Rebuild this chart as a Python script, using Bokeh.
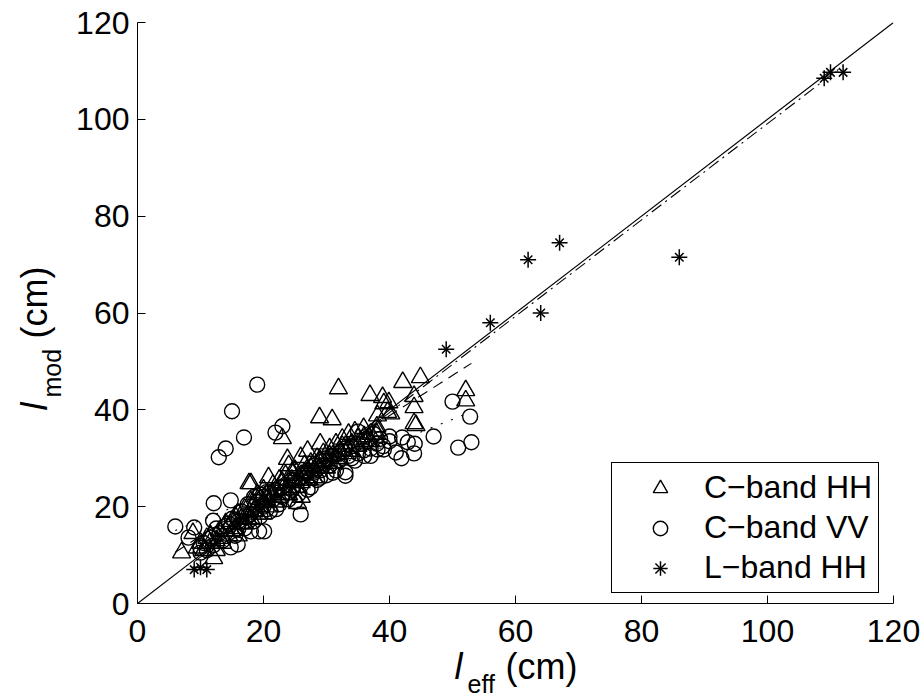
import math
from bokeh.plotting import figure
from bokeh.models import Range1d, Legend, LegendItem, FixedTicker, ColumnDataSource
from bokeh.core.properties import value
from bokeh.embed import file_html
from bokeh.resources import INLINE

# ---------------- data ----------------
ticks = [0, 20, 40, 60, 80, 100, 120]

chh_x = [7.0, 8.8, 9.5, 10.0, 11.0, 11.6, 12.1, 12.5, 13.0, 13.5, 14.0, 14.5, 15.0, 15.5,
         16.0, 16.5, 17.0, 17.5, 17.7, 18.0, 18.5, 19.0, 19.5, 20.0, 20.5, 20.8, 21.0, 21.5,
         22.0, 22.5, 23.0, 23.0, 23.5, 23.8, 24.0, 24.5, 25.0, 25.5, 25.9, 26.0, 26.5, 27.0,
         27.5, 28.0, 28.5, 28.9, 29.0, 29.5, 30.0, 30.5, 30.9, 31.0, 31.5, 31.9, 32.0, 32.5,
         33.0, 33.5, 34.0, 34.5, 35.0, 35.9, 36.0, 36.9, 37.0, 38.0, 38.1, 38.9, 39.1, 39.7,
         39.9, 40.2, 42.1, 43.9, 43.9, 43.9, 44.2, 44.9, 52.1, 52.1, 38.1, 26.0, 25.4, 20.0,
         16.0, 12.5, 18.0,
         10.5, 11.5, 13.0, 14.0, 15.0, 15.5, 16.5, 17.0, 18.0, 18.5, 19.0, 19.5, 20.0, 21.0,
         21.5, 22.0, 22.5, 23.0, 24.0, 24.5, 25.0, 26.0, 26.5, 27.0, 27.5, 28.0, 28.5, 29.0,
         30.0, 30.5, 31.0, 32.0, 32.5, 33.0, 34.0, 35.0, 36.0, 37.0, 38.0, 24.0, 27.0, 29.0]
chh_y = [10.5, 14.5, 11.5, 12.5, 13.5, 14.0, 9.3, 13.0, 15.0, 12.5, 16.5, 14.0, 17.0, 15.5,
         18.5, 16.5, 19.5, 17.5, 24.8, 21.0, 19.0, 22.5, 20.0, 23.5, 21.5, 26.0, 22.5, 24.5,
         21.0, 25.5, 34.1, 23.5, 26.5, 29.8, 22.5, 25.5, 27.5, 24.0, 30.2, 26.5, 28.5, 25.5,
         29.0, 27.5, 30.0, 38.4, 28.0, 31.0, 29.5, 32.0, 38.0, 30.5, 33.0, 44.4, 31.5, 34.0,
         32.5, 35.0, 33.0, 35.5, 34.0, 36.2, 33.5, 43.0, 35.0, 36.5, 38.8, 42.6, 41.3, 39.5,
         41.5, 39.2, 45.7, 42.8, 40.5, 37.2, 36.8, 46.7, 44.0, 41.9, 35.7, 22.0, 20.7, 18.5,
         14.0, 11.0, 24.8,
         11.0, 12.5, 13.5, 15.0, 15.0, 18.0, 17.5, 16.5, 17.5, 20.5, 18.5, 21.5, 21.0, 20.0,
         22.5, 23.5, 22.0, 25.0, 23.5, 27.0, 25.0, 25.0, 27.0, 27.0, 28.0, 26.0, 28.5, 29.5,
         28.0, 30.5, 29.0, 30.0, 32.5, 31.0, 31.5, 32.5, 34.5, 33.5, 35.0, 28.5, 31.5, 33.0]

cvv_x = [6.0, 8.1, 9.0, 10.0, 10.5, 11.6, 12.0, 12.1, 12.9, 13.0, 14.0, 14.0, 14.8, 14.8,
         15.0, 15.0, 15.9, 16.0, 16.5, 16.9, 17.0, 17.5, 18.0, 18.0, 18.5, 19.0, 19.0, 19.3,
         19.5, 20.0, 20.1, 20.5, 21.0, 21.5, 21.9, 22.0, 22.5, 23.0, 23.0, 23.5, 24.0, 24.5,
         25.0, 25.5, 25.9, 26.0, 26.5, 27.0, 27.5, 28.0, 28.5, 29.0, 29.5, 30.0, 30.5, 31.0,
         31.5, 32.0, 32.5, 33.0, 33.0, 33.5, 34.0, 34.5, 35.0, 35.9, 36.5, 37.0, 38.1, 38.5,
         39.1, 40.0, 41.0, 41.9, 42.0, 42.9, 43.9, 47.0, 50.0, 50.9, 52.8, 53.0, 35.0, 37.5,
         10.0, 11.0, 12.0, 12.5, 13.5, 14.5, 15.5, 16.0, 17.0, 17.5, 18.5, 19.0, 19.5, 20.0,
         20.5, 21.0, 22.0, 23.0, 24.0, 24.5, 25.0, 26.0, 27.0, 27.5, 28.0, 29.0, 29.5, 30.0,
         31.0, 32.0, 33.0, 34.0, 35.5, 36.0, 37.0, 38.0, 39.0, 40.0, 44.0]
cvv_y = [15.9, 13.6, 15.7, 10.5, 12.5, 13.6, 17.1, 20.7, 30.2, 14.5, 32.0, 16.0, 11.6, 21.3,
         39.7, 17.5, 12.2, 15.5, 19.0, 34.3, 17.0, 20.5, 14.9, 18.5, 22.0, 45.2, 19.5, 14.9,
         22.5, 20.0, 14.9, 23.0, 19.0, 21.5, 35.3, 23.5, 20.5, 36.6, 22.0, 24.5, 21.5, 23.5,
         25.5, 22.5, 18.4, 24.5, 27.0, 23.5, 26.0, 28.5, 25.5, 27.5, 29.5, 26.5, 28.5, 30.5,
         27.5, 29.5, 31.5, 27.1, 26.4, 30.5, 32.5, 29.5, 31.0, 31.6, 33.5, 30.5, 31.8, 34.0,
         31.8, 33.5, 31.2, 30.0, 34.3, 33.3, 31.0, 34.5, 41.7, 32.2, 38.6, 33.3, 35.5, 35.0,
         11.5, 11.0, 12.0, 15.5, 13.0, 16.5, 14.0, 17.0, 15.5, 18.0, 17.0, 21.0, 18.0, 22.0,
         19.5, 23.0, 19.5, 24.0, 23.0, 25.5, 21.0, 26.0, 27.0, 24.0, 27.0, 26.0, 28.5, 30.0,
         27.0, 31.0, 32.0, 30.0, 33.0, 30.5, 32.0, 33.0, 32.5, 34.5, 33.0]

lhh_x = [9.0, 10.0, 11.0, 49.0, 56.0, 62.0, 64.0, 67.0, 86.0, 109.0, 110.0, 112.0]
lhh_y = [7.0, 7.5, 7.0, 52.5, 58.0, 71.0, 60.0, 74.5, 71.5, 108.5, 109.7, 109.7]

# 1:1 line and the three fitted lines (end points)
one_x = [0, 120]
one_y = [0, 120]
fit_chh_x = [6.0, 53.0]
fit_chh_y = [10.6, 49.6]
fit_cvv_x = [6.0, 53.0]
fit_cvv_y = [15.1, 39.6]
fit_lhh_x = [9.0, 112.0]
fit_lhh_y = [8.6, 111.05]

labels = ["C\u2212band HH", "C\u2212band VV", "L\u2212band HH"]

FONT = "Liberation Sans"
W, H = 922, 698

# ---------------- main figure ----------------
p = figure(width=W, height=H, output_backend="svg", toolbar_location=None,
           x_range=Range1d(0, 120), y_range=Range1d(0, 120),
           min_border_left=137, min_border_right=29, min_border_top=22,
           min_border_bottom=95)
p.background_fill_color = "white"
p.border_fill_color = "white"
p.outline_line_color = None
p.xgrid.visible = False
p.ygrid.visible = False

for ax in (p.xaxis[0], p.yaxis[0]):
    ax.ticker = FixedTicker(ticks=ticks)
    ax.major_tick_in = 8
    ax.major_tick_out = 0
    ax.minor_tick_line_color = None
    ax.axis_line_color = "black"
    ax.axis_line_width = 1
    ax.major_tick_line_color = "black"
    ax.major_label_text_font = FONT
    ax.major_label_text_font_size = "32px"
    ax.major_label_text_color = "black"
p.xaxis[0].major_label_standoff = 16
p.yaxis[0].major_label_standoff = 8

# lines
p.line(one_x, one_y, line_color="black", line_width=1.1)
p.line(fit_chh_x, fit_chh_y, line_color="black", line_width=1.1, line_dash="11 7")
p.line(fit_cvv_x, fit_cvv_y, line_color="black", line_width=1.1, line_dash="2 9")
p.line(fit_lhh_x, fit_lhh_y, line_color="black", line_width=1.1, line_dash="12 5 2 5")

# markers
src_hh = ColumnDataSource(dict(x=chh_x, y=chh_y))
src_vv = ColumnDataSource(dict(x=cvv_x, y=cvv_y))
src_l = ColumnDataSource(dict(x=lhh_x, y=lhh_y))
r_hh = p.scatter("x", "y", source=src_hh, marker="triangle", size=18,
                 fill_color=None, line_color="black", line_width=1.4)
r_vv = p.scatter("x", "y", source=src_vv, marker="circle", size=15,
                 fill_color=None, line_color="black", line_width=1.4)
r_l1 = p.scatter("x", "y", source=src_l, marker="cross", size=16,
                 line_color="black", line_width=1.5)
r_l2 = p.scatter("x", "y", source=src_l, marker="x", size=12,
                 line_color="black", line_width=1.5)

legend = Legend(items=[LegendItem(label=labels[0], renderers=[r_hh]),
                       LegendItem(label=labels[1], renderers=[r_vv]),
                       LegendItem(label=labels[2], renderers=[r_l1, r_l2])],
                location=(474, 10))
legend.label_text_font = FONT
legend.label_text_font_size = "32px"
legend.label_text_color = "black"
legend.glyph_width = 84
legend.glyph_height = 36
legend.label_height = 36
legend.label_standoff = 2
legend.spacing = 3
legend.padding = 6
legend.margin = 0
legend.border_line_color = "black"
legend.border_line_alpha = 1.0
legend.border_line_width = 1.6
legend.background_fill_color = "white"
legend.background_fill_alpha = 1.0
p.add_layout(legend, "center")

# ---------------- transparent overlay (own root) carrying the axis titles ----------------
t = figure(width=W, height=H, output_backend="svg", toolbar_location=None, title=None,
           x_range=Range1d(0, W), y_range=Range1d(0, H),
           min_border=0, x_axis_type=None, y_axis_type=None)
t.outline_line_color = None
t.grid.visible = False
t.background_fill_alpha = 0
t.border_fill_alpha = 0
t.styles = {"position": "absolute", "top": "0px", "left": "0px", "z-index": "10"}

MAIN_PX = "36px"
SUB_PX = "25px"
# x title: l_eff (cm), positions in page pixels (y measured from the bottom)
t.text(x=[454], y=[H - 666], text=["l"], text_font=value(FONT),
       text_font_style=value("italic"), text_font_size=value(MAIN_PX),
       text_color="black", text_baseline="alphabetic")
t.text(x=[467], y=[H - 683], text=["eff"], text_font=value(FONT),
       text_font_size=value(SUB_PX), text_color="black", text_baseline="alphabetic")
t.text(x=[505], y=[H - 666], text=["(cm)"], text_font=value(FONT),
       text_font_size=value(MAIN_PX), text_color="black", text_baseline="alphabetic")
# y title: l_mod (cm), rotated
t.text(x=[34], y=[H - 410], text=["l"], angle=math.pi / 2,
       text_font=value(FONT), text_font_style=value("italic"),
       text_font_size=value(MAIN_PX), text_color="black", text_baseline="alphabetic")
t.text(x=[51], y=[H - 397], text=["mod"], angle=math.pi / 2,
       text_font=value(FONT), text_font_size=value(SUB_PX), text_color="black",
       text_baseline="alphabetic")
t.text(x=[34], y=[H - 338], text=["(cm)"], angle=math.pi / 2,
       text_font=value(FONT), text_font_size=value(MAIN_PX), text_color="black",
       text_baseline="alphabetic")

open("out.html", "w").write(file_html([p, t], INLINE))
